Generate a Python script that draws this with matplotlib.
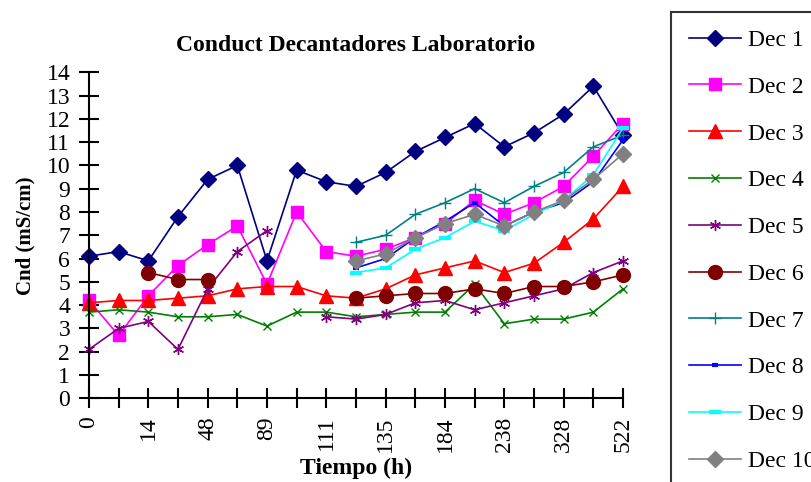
import matplotlib.pyplot as plt
import numpy as np

plt.rcParams['font.family'] = ['Liberation Serif', 'DejaVu Serif']

nan = np.nan

# 19 sample points, only every other one gets a label (Excel style)
tiempo = ['0', '', '14', '', '48', '', '89', '', '111', '', '135', '', '184', '',
          '238', '', '328', '', '522']

dec1 = [6.1, 6.3, 5.9, 7.8, 9.4, 10.0, 5.9, 9.8, 9.3, 9.1, 9.7, 10.6, 11.2, 11.8,
        10.8, 11.4, 12.2, 13.4, 11.3]
dec2 = [4.2, 2.7, 4.4, 5.7, 6.6, 7.4, 4.9, 8.0, 6.3, 6.1, 6.4, 6.9, 7.5, 8.5,
        7.9, 8.4, 9.1, 10.4, 11.8]
dec3 = [4.1, 4.2, 4.2, 4.3, 4.4, 4.7, 4.8, 4.8, 4.4, 4.3, 4.7, 5.3, 5.6, 5.9,
        5.4, 5.8, 6.7, 7.7, 9.1]
dec4 = [3.7, 3.8, 3.7, 3.5, 3.5, 3.6, 3.1, 3.7, 3.7, 3.5, 3.6, 3.7, 3.7, 4.9,
        3.2, 3.4, 3.4, 3.7, 4.7]
dec5 = [2.1, 3.0, 3.3, 2.1, 4.7, 6.3, 7.2, nan, 3.5, 3.4, 3.6, 4.1, 4.2, 3.8,
        4.1, 4.4, 4.7, 5.4, 5.9]
dec6 = [nan, nan, 5.4, 5.1, 5.1, nan, nan, nan, nan, 4.3, 4.4, 4.5, 4.5, 4.7,
        4.5, 4.8, 4.8, 5.0, 5.3]
dec7 = [nan] * 9 + [6.7, 7.0, 7.9, 8.4, 9.0, 8.4, 9.1, 9.7, 10.8, 11.3]
dec8 = [nan] * 9 + [5.6, 6.0, 6.9, 7.6, 8.4, 7.4, 8.0, 8.4, 9.3, 11.1]
dec9 = [nan] * 9 + [5.4, 5.6, 6.4, 6.9, 7.6, 7.2, 7.9, 8.5, 9.6, 11.6]
dec10 = [nan] * 9 + [5.9, 6.2, 6.9, 7.5, 7.9, 7.4, 8.0, 8.5, 9.4, 10.5]

series = [
    ('Dec 1', dec1, '#000080', 'D', 8),
    ('Dec 2', dec2, '#FF00FF', 's', 9),
    ('Dec 3', dec3, '#FF0000', '^', 10),
    ('Dec 4', dec4, '#008000', 'x', 6),
    ('Dec 5', dec5, '#800080', (6, 2, 0), 8),
    ('Dec 6', dec6, '#800000', 'o', 10),
    ('Dec 7', dec7, '#008080', '+', 9),
    ('Dec 8', dec8, '#0000FF', '_', 5),
    ('Dec 9', dec9, '#00FFFF', '_', 8),
    ('Dec 10', dec10, '#808080', 'D', 8),
]

fig = plt.figure(figsize=(8.11, 4.82), dpi=100)
ax = fig.add_axes([0.1097, 0.1737, 0.6585, 0.6763])

x = np.arange(len(tiempo))
for name, vals, col, mk, ms in series:
    mew = 3 if mk == '_' else 1
    ax.plot(x, vals, color=col, marker=mk, markersize=ms, markeredgewidth=mew,
            linewidth=1.2, label=name, clip_on=False)

ax.set_xlim(0, 18)
ax.set_ylim(0, 14)
ax.set_xticks(x)
ax.set_xticklabels(tiempo, rotation=90)
ax.set_yticks(range(15))
ax.tick_params(direction='inout', length=15, width=1.5, labelsize=17, pad=6)
ax.tick_params(axis='x', length=14, pad=6)
for s in ['top', 'right']:
    ax.spines[s].set_visible(False)
for s in ['left', 'bottom']:
    ax.spines[s].set_linewidth(1.5)

ax.set_title('Conduct Decantadores Laboratorio', fontsize=17, fontweight='bold', pad=15)
ax.set_ylabel('Cnd (mS/cm)', fontsize=15, fontweight='bold', labelpad=8)
ax.set_xlabel('Tiempo (h)', fontsize=17, fontweight='bold', labelpad=4)

leg = fig.legend(loc='upper left', bbox_to_anchor=(671 / 811, 1 - 11.7 / 482),
                 fontsize=17, frameon=True, fancybox=False, handlelength=2.2,
                 handletextpad=0.3, labelspacing=1.07, borderpad=0.75,
                 borderaxespad=0)
leg.get_frame().set_edgecolor('black')
leg.get_frame().set_linewidth(1.5)

fig.savefig('out.png', dpi=100)
